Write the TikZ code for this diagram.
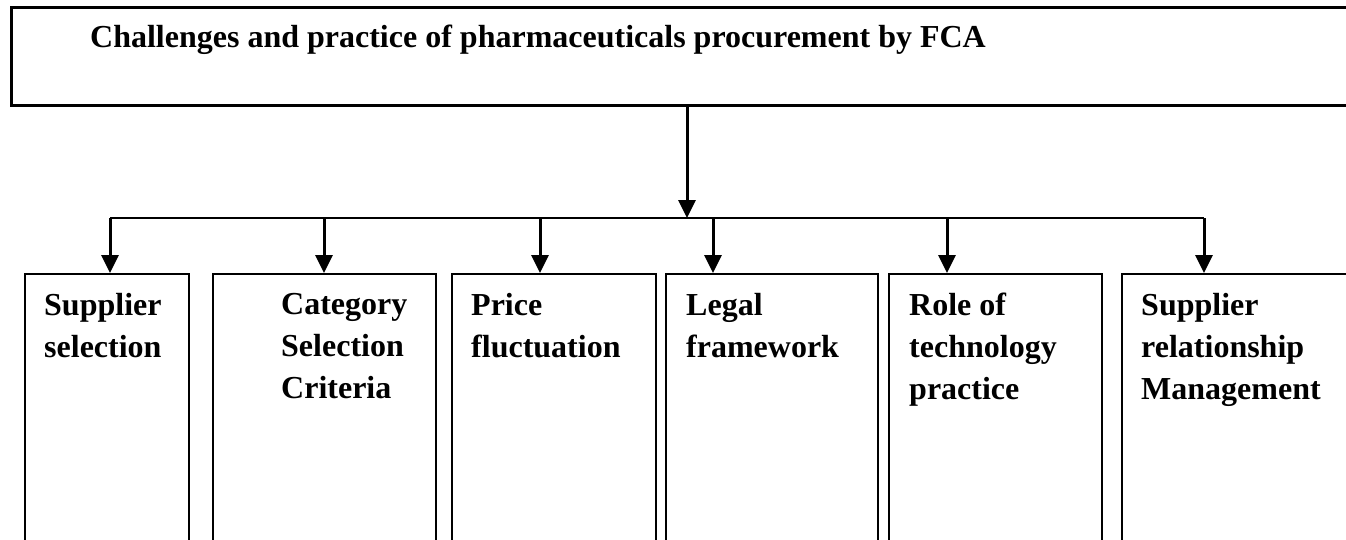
\documentclass[tikz,border=0pt]{standalone}
\usepackage{fontspec}
\setmainfont{Liberation Serif}
\usetikzlibrary{arrows.meta}

\begin{document}
\begin{tikzpicture}[x=1pt,y=-1pt,
    box/.style={draw,line width=1.9pt,inner sep=0pt,anchor=north west},
    lbl/.style={anchor=north west,inner sep=0pt,align=left,font=\bfseries\fontsize{32}{42}\selectfont},
    arr/.style={line width=3pt,-{Triangle[length=18pt,width=17pt]}},
    bar/.style={line width=2pt}]
    \useasboundingbox (0,0) rectangle (1346,539);
    \clip (0,0) rectangle (1346,539);
    \node[box,line width=2.6pt,minimum width=1400,minimum height=98] (frame) at (10,6) {};
    \node[lbl,anchor=base west] (title) at (90,47) {Challenges and practice of pharmaceuticals procurement by FCA};
    \coordinate (hub) at (687,218);
    \draw[arr] (frame.south -| hub) -- (hub);
    \foreach \i/\l/\r/\ax/\tx/\txt in {
      1/24/188/110/44/{Supplier\\selection},
      2/212/435/324/281/{Category\\Selection\\Criteria},
      3/451/655/540/471/{Price\\fluctuation},
      4/665/877/713/686/{Legal\\framework},
      5/888/1101/947/909/{Role of\\technology\\practice},
      6/1121/1400/1204/1141/{Supplier\\relationship\\Management}}{
      \node[box,minimum width=\r-\l,minimum height=300] (box\i) at (\l,273) {};
      \node[lbl] (lbl\i) at (\tx,293) {\txt};
      \coordinate (drop\i) at (\ax,218);
      \draw[arr] (drop\i) -- (drop\i |- box\i.north);
    }
    \draw[bar] (drop1) -- (drop6);
\end{tikzpicture}
\end{document}
